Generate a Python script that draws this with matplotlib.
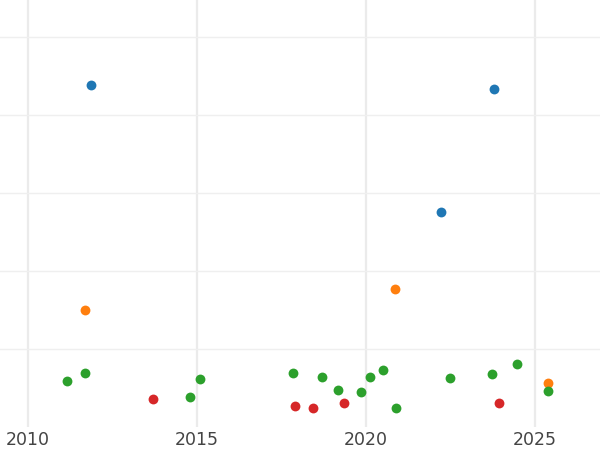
import numpy as np
import matplotlib.pyplot as plt

# point data (x = year, y = arbitrary units)
blue_x = [2011.86, 2023.79, 2022.22]
blue_y = [4.38, 4.33, 2.76]
orange_x = [2011.69, 2020.86, 2025.38]
orange_y = [1.50, 1.77, 0.56]
green_x = [2011.15, 2011.69, 2015.09, 2014.79, 2017.84, 2018.70, 2019.17,
           2019.85, 2020.12, 2020.50, 2020.89, 2022.49, 2023.73, 2024.47, 2025.38]
green_y = [0.59, 0.69, 0.62, 0.38, 0.69, 0.64, 0.47,
           0.45, 0.64, 0.73, 0.24, 0.63, 0.68, 0.81, 0.46]
red_x = [2013.70, 2017.90, 2018.43, 2019.35, 2023.93]
red_y = [0.36, 0.27, 0.24, 0.31, 0.31]

xticks = [2010, 2015, 2020, 2025]

fig = plt.figure(figsize=(6, 4.5), dpi=100)
ax = fig.add_axes([0, 1 - 427 / 450, 1, 427 / 450])

ax.scatter(blue_x, blue_y, s=50, color='#1f77b4', zorder=3, linewidths=0)
ax.scatter(orange_x, orange_y, s=50, color='#ff7f0e', zorder=3, linewidths=0)
ax.scatter(green_x, green_y, s=50, color='#2ca02c', zorder=3, linewidths=0)
ax.scatter(red_x, red_y, s=50, color='#d62728', zorder=3, linewidths=0)

ax.set_xlim(2009.17, 2026.92)
ax.set_ylim(0, 427 / 78)
ax.set_xticks(xticks)
ax.set_xticklabels([str(t) for t in xticks])
ax.set_yticks([1, 2, 3, 4, 5])
ax.set_yticklabels([])

for s in ax.spines.values():
    s.set_visible(False)
ax.tick_params(axis='both', length=0, labelsize=12.5, labelcolor='#444444', pad=3)
ax.grid(axis='x', color='#ebebeb', linewidth=1.6)
ax.grid(axis='y', color='#efefef', linewidth=1)
ax.set_axisbelow(True)

plt.savefig('out.png', dpi=100)
